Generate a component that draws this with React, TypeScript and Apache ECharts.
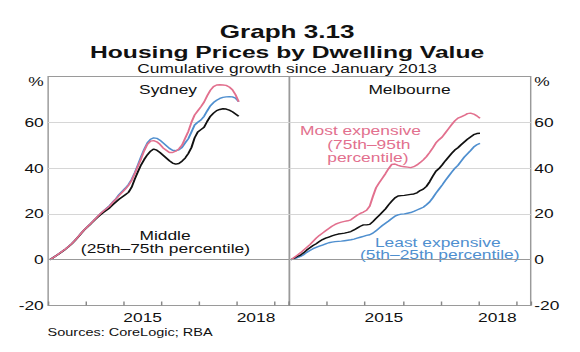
import React, { useEffect, useRef } from "react";
import * as echarts from "echarts";

// ---------- data (cumulative growth since January 2013, %, monthly from Jan 2013) ----------
const sydneyMostExpensive = [
  0, 0.8, 1.7, 2.7, 3.7, 4.7, 5.8, 7.0, 8.4, 10.0, 11.6, 13.1, 14.4, 15.8, 17.2, 18.6, 20.0, 21.2, 22.3,
  23.4, 25.0, 26.4, 28.0, 29.4, 30.8, 32.4, 34.6, 37.6, 40.8, 44.0, 47.6, 50.4, 51.8, 52.0, 51.5, 50.4,
  48.8, 47.8, 46.8, 46.8, 47.4, 48.4, 50.0, 53.0, 56.0, 60.0, 63.2, 65.0, 66.8, 68.8, 71.6, 74.0, 75.6,
  76.3, 76.4, 76.3, 76.1, 75.4, 74.2, 72.0, 69.0,
];
const sydneyMiddle = [
  0, 0.8, 1.7, 2.6, 3.6, 4.6, 5.7, 6.9, 8.3, 9.9, 11.5, 13.0, 14.3, 15.6, 17.0, 18.3, 19.5, 20.6, 21.6,
  22.6, 24.0, 25.2, 26.4, 27.4, 28.4, 29.4, 31.6, 35.2, 38.4, 41.4, 43.8, 45.8, 47.4, 48.3, 47.8, 46.8,
  45.6, 44.4, 43.2, 42.2, 41.7, 42.0, 43.0, 44.4, 46.4, 49.0, 53.2, 55.8, 56.8, 57.8, 60.4, 62.6, 64.0,
  65.1, 65.6, 65.9, 65.8, 65.3, 64.6, 63.6, 62.6,
];
const sydneyLeastExpensive = [
  0, 0.8, 1.7, 2.7, 3.7, 4.7, 5.8, 7.0, 8.4, 10.0, 11.6, 13.1, 14.4, 15.8, 17.2, 18.6, 20.0, 21.2, 22.4,
  23.6, 25.2, 26.6, 28.4, 29.8, 31.2, 32.8, 35.0, 38.0, 41.4, 45.0, 48.2, 51.0, 52.6, 53.2, 53.0, 52.2,
  51.0, 49.8, 48.6, 47.8, 47.6, 48.0, 49.0, 51.0, 52.8, 55.8, 58.8, 60.0, 61.0, 62.6, 65.0, 67.2, 68.6,
  69.6, 70.4, 70.9, 71.1, 71.2, 71.1, 70.6, 69.0,
];
const melbourneMostExpensive = [
  0, 1.0, 2.0, 3.0, 4.2, 5.4, 6.6, 8.0, 9.4, 10.6, 11.6, 12.6, 13.6, 14.6, 15.4, 16.0, 16.4, 16.7, 17.0,
  17.4, 18.4, 19.4, 20.2, 20.8, 21.6, 23.4, 27.6, 31.4, 33.6, 35.6, 37.6, 39.8, 41.6, 41.8, 41.2, 40.8,
  40.6, 40.4, 40.2, 40.6, 41.4, 42.4, 43.6, 45.0, 46.8, 48.8, 51.0, 52.4, 53.6, 55.4, 57.2, 59.0, 60.6,
  61.8, 62.4, 63.0, 63.8, 64.0, 63.6, 62.8, 61.8,
];
const melbourneMiddle = [
  0, 0.7, 1.4, 2.0, 3.0, 4.2, 5.2, 6.2, 7.0, 7.9, 8.8, 9.4, 9.9, 10.4, 10.8, 11.2, 11.4, 11.6, 11.9,
  12.3, 13.0, 13.8, 14.6, 15.2, 15.2, 15.4, 16.6, 18.0, 19.4, 20.8, 22.2, 24.0, 25.6, 27.0, 27.8, 28.0,
  28.1, 28.3, 28.5, 28.7, 29.2, 30.2, 30.8, 32.0, 34.0, 36.4, 38.6, 39.8, 41.4, 43.2, 44.8, 46.4, 47.9,
  48.9, 50.2, 51.4, 52.6, 53.6, 54.6, 55.1, 55.2,
];
const melbourneLeastExpensive = [
  0, 0.4, 0.9, 1.4, 2.2, 3.2, 4.0, 4.8, 5.4, 5.9, 6.4, 6.9, 7.4, 7.7, 7.9, 8.0, 8.1, 8.3, 8.5,
  8.7, 9.0, 9.4, 9.8, 10.2, 10.6, 10.9, 11.6, 12.6, 13.8, 14.9, 15.9, 16.9, 18.0, 19.0, 19.6, 19.9,
  20.0, 20.3, 20.6, 21.1, 21.7, 22.3, 22.9, 24.0, 25.2, 27.0, 29.0, 30.8, 32.6, 34.6, 36.4, 38.2, 39.9,
  41.2, 43.0, 44.8, 46.2, 47.6, 49.2, 50.2, 50.8,
];

const START_YEAR = 2013;
const yearLabels = ["2015", "2018"];
const yTickValues = [-20, 0, 20, 40, 60];
const yTopLabel = "%";

// ---------- layout / style ----------
const STRETCH = 1.45;
const CHART_W = 580 / STRETCH;
const FONT = "'Liberation Sans', Arial, sans-serif";
const PINK = "#e2708e";
const BLUE = "#4f8fcf";
const BLACK = "#111111";
const X_MAX = 76.6; // months since Jan 2013 shown on each panel
const GRID_TOP = 76.5;
const GRID_H = 229;
const GRID_W = 166.4;
const GRID_LEFTS = [33.2, 199.6];

const toPoints = (arr: number[]) => arr.map((v, i) => [i + 0.5, v]);
const labelMonth = (y: string) => (Number(y) - START_YEAR) * 12 + 6;

function buildOption() {
  const grid = GRID_LEFTS.map((left) => ({
    left,
    top: GRID_TOP,
    width: GRID_W,
    height: GRID_H,
    show: true,
    borderColor: "#9a9a9a",
    borderWidth: 1,
    backgroundColor: "rgba(0,0,0,0)",
  }));

  const xAxis: any[] = [];
  GRID_LEFTS.forEach((_, g) => {
    xAxis.push({
      type: "value",
      gridIndex: g,
      position: "bottom",
      min: 0,
      max: X_MAX,
      interval: 12,
      axisLine: { show: false, onZero: false },
      axisTick: { show: true, inside: true, length: 4, lineStyle: { color: "#888", width: 1 } },
      axisLabel: { show: false },
      splitLine: { show: false },
    });
    xAxis.push({
      type: "value",
      gridIndex: g,
      position: "bottom",
      min: 0,
      max: X_MAX,
      interval: 6,
      axisLine: { show: false, onZero: false },
      axisTick: { show: false },
      axisLabel: {
        margin: 6,
        fontSize: 12,
        fontFamily: FONT,
        color: BLACK,
        formatter: (v: number) => {
          const hit = yearLabels.find((y) => Math.abs(labelMonth(y) - v) < 0.01);
          return hit || "";
        },
      },
      splitLine: { show: false },
    });
  });

  const yAxis = GRID_LEFTS.map((_, g) => ({
    type: "value",
    gridIndex: g,
    position: g === 0 ? "left" : "right",
    min: -20,
    max: 80,
    interval: 20,
    axisLine: { show: false },
    axisTick: { show: false },
    axisLabel: {
      margin: g === 0 ? 3 : 2.5,
      fontSize: 12,
      fontFamily: FONT,
      color: BLACK,
      formatter: (v: number) =>
        v === 80 ? `{p|${yTopLabel}}` : yTickValues.includes(v) ? String(v) : "",
      rich: { p: { padding: [11, 0, 0, 0], fontSize: 12, fontFamily: FONT, color: BLACK } },
    },
    splitLine: {
      show: true,
      showMinLine: false,
      showMaxLine: false,
      lineStyle: { color: "#d6d6d6", width: 1 },
    },
  }));

  const zeroLine = {
    silent: true,
    symbol: ["none", "none"],
    label: { show: false },
    lineStyle: { color: "#999", width: 1, type: "solid" },
    data: [{ yAxis: 0 }],
  };

  const line = (name: string, data: number[], color: string, g: number, withZero = false) => ({
    name,
    type: "line",
    xAxisIndex: g * 2,
    yAxisIndex: g,
    data: toPoints(data),
    showSymbol: false,
    symbol: "none",
    lineStyle: { color, width: 1.4 },
    itemStyle: { color },
    ...(withZero ? { markLine: zeroLine } : {}),
  });

  const series = [
    line("Sydney least expensive", sydneyLeastExpensive, BLUE, 0, true),
    line("Sydney middle", sydneyMiddle, BLACK, 0),
    line("Sydney most expensive", sydneyMostExpensive, PINK, 0),
    line("Melbourne least expensive", melbourneLeastExpensive, BLUE, 1, true),
    line("Melbourne middle", melbourneMiddle, BLACK, 1),
    line("Melbourne most expensive", melbourneMostExpensive, PINK, 1),
  ];

  const txt = (
    text: string,
    x: number,
    y: number,
    opts: { size?: number; bold?: boolean; color?: string; align?: string } = {}
  ) => ({
    type: "text",
    x,
    y,
    silent: true,
    style: {
      text,
      fontSize: opts.size ?? 12,
      fontWeight: opts.bold ? "bold" : "normal",
      fontFamily: FONT,
      fill: opts.color ?? BLACK,
      align: opts.align ?? "center",
      verticalAlign: "middle",
    },
  });

  const graphic = [
    txt("Graph 3.13", 198, 31.5, { size: 18, bold: true }),
    txt("Housing Prices by Dwelling Value", 198, 51.8, { size: 17, bold: true }),
    txt("Cumulative growth since January 2013", 198, 68.1, { size: 12 }),
    txt("Sydney", 115.9, 89.3),
    txt("Middle", 113.8, 235.8),
    txt("(25th\u201375th percentile)", 114.1, 248.5),
    txt("Melbourne", 282.4, 89.8),
    txt("Most expensive", 248.6, 130.3, { color: PINK }),
    txt("(75th\u201395th", 225.7, 144.5, { color: PINK, align: "left" }),
    txt("percentile)", 225.7, 157.3, { color: PINK, align: "left" }),
    txt("Least expensive", 301.9, 242.8, { color: BLUE }),
    txt("(5th\u201325th percentile)", 303.3, 255, { color: BLUE }),
    txt("Sources: CoreLogic; RBA", 32.8, 333, { size: 10, align: "left" }),
  ];

  return {
    animation: false,
    backgroundColor: "#ffffff",
    grid,
    xAxis,
    yAxis,
    series,
    graphic,
  };
}

export default function App() {
  const ref = useRef<HTMLDivElement>(null);
  useEffect(() => {
    if (!ref.current) return;
    const chart = echarts.init(ref.current, null, { renderer: "svg" });
    chart.setOption(buildOption() as any);
    return () => chart.dispose();
  }, []);
  return (
    <div
      style={{
        position: "fixed",
        left: 0,
        top: 0,
        width: 580,
        height: 352,
        overflow: "hidden",
        background: "#fff",
      }}
    >
      <div
        ref={ref}
        style={{
          width: CHART_W,
          height: 352,
          transform: `scaleX(${STRETCH})`,
          transformOrigin: "0 0",
        }}
      />
    </div>
  );
}
